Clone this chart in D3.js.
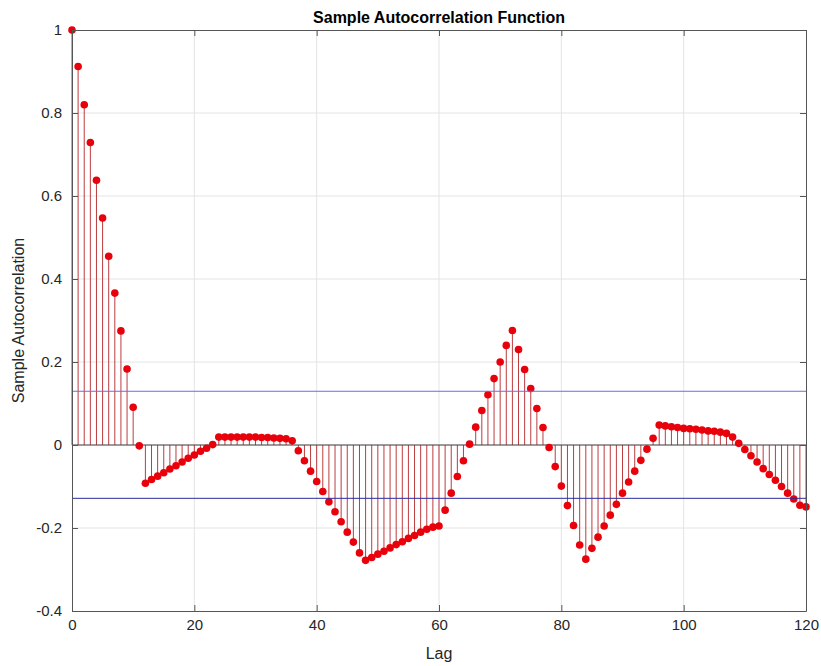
<!DOCTYPE html>
<html>
<head>
<meta charset="utf-8">
<script src="https://cdn.jsdelivr.net/npm/d3@7"></script>
<style>
  body { margin: 0; background: #fff; }
  text { font-family: "Liberation Sans", Arial, Helvetica, sans-serif; }
</style>
</head>
<body>
<div id="chart"></div>
<script>
// sample autocorrelation values, lags 0..120
let lags = d3.range(0, 121);
let acf = [
  1.000, 0.912, 0.820, 0.729, 0.638, 0.547, 0.455, 0.366, 0.275, 0.183, 0.091, -0.002,
  -0.092, -0.083, -0.075, -0.067, -0.058, -0.050, -0.041, -0.032, -0.024, -0.015, -0.008, 0.001,
  0.019, 0.019, 0.019, 0.019, 0.019, 0.019, 0.019, 0.018, 0.018, 0.017, 0.016, 0.015,
  0.010, -0.014, -0.038, -0.063, -0.088, -0.112, -0.137, -0.161, -0.185, -0.210, -0.234, -0.260,
  -0.278, -0.271, -0.263, -0.256, -0.248, -0.240, -0.233, -0.225, -0.218, -0.210, -0.203, -0.198,
  -0.195, -0.157, -0.116, -0.076, -0.038, 0.002, 0.043, 0.083, 0.121, 0.160, 0.200, 0.240,
  0.276, 0.230, 0.182, 0.136, 0.088, 0.042, -0.006, -0.052, -0.099, -0.146, -0.194, -0.241,
  -0.275, -0.249, -0.222, -0.195, -0.169, -0.143, -0.116, -0.089, -0.063, -0.037, -0.010, 0.016,
  0.048, 0.046, 0.044, 0.042, 0.040, 0.039, 0.038, 0.036, 0.034, 0.033, 0.031, 0.028,
  0.019, 0.004, -0.011, -0.026, -0.041, -0.057, -0.071, -0.085, -0.100, -0.116, -0.130, -0.145,
  -0.149
];
let bounds = [0.1295, -0.1285];
let xTicks = [0, 20, 40, 60, 80, 100, 120];
let yTicks = [-0.4, -0.2, 0, 0.2, 0.4, 0.6, 0.8, 1];

let margin = {top: 30, right: 15, bottom: 55, left: 72};
let width = 821 - margin.left - margin.right;
let height = 666 - margin.top - margin.bottom;

let svg = d3.select("#chart")
            .append("svg")
            .attr("width", 821)
            .attr("height", 666)
            .append("g")
            .attr("transform", "translate(" + margin.left + "," + margin.top + ")");

let x = d3.scaleLinear().domain([0, 120]).range([0, width]);
let y = d3.scaleLinear().domain([-0.4, 1]).range([height, 0]);

// grid
svg.append("g").selectAll("line")
    .data(xTicks.slice(1, -1))
    .enter().append("line")
    .attr("x1", d => x(d)).attr("x2", d => x(d))
    .attr("y1", 0).attr("y2", height)
    .attr("stroke", "#e4e4e4").attr("stroke-width", 1);
svg.append("g").selectAll("line")
    .data(yTicks.slice(1, -1))
    .enter().append("line")
    .attr("x1", 0).attr("x2", width)
    .attr("y1", d => y(d)).attr("y2", d => y(d))
    .attr("stroke", "#e4e4e4").attr("stroke-width", 1);

let data = lags.map((l, i) => ({lag: l, r: acf[i]}));

// stems
svg.append("g").selectAll("line")
    .data(data)
    .enter().append("line")
    .attr("x1", d => x(d.lag)).attr("x2", d => x(d.lag))
    .attr("y1", y(0)).attr("y2", d => y(d.r))
    .attr("stroke", "#bd3c3e").attr("stroke-width", 1);

// baseline
svg.append("line")
    .attr("x1", 0).attr("x2", width)
    .attr("y1", y(0)).attr("y2", y(0))
    .attr("stroke", "#444").attr("stroke-width", 1);

// markers
svg.append("g").selectAll("circle")
    .data(data)
    .enter().append("circle")
    .attr("cx", d => x(d.lag)).attr("cy", d => y(d.r))
    .attr("r", 3.8)
    .attr("fill", "#e8000b");

// confidence bounds
svg.append("g").selectAll("line")
    .data(bounds)
    .enter().append("line")
    .attr("x1", 0).attr("x2", width)
    .attr("y1", d => y(d)).attr("y2", d => y(d))
    .attr("stroke", (d, i) => i == 0 ? "#6a6af0" : "#2a2aa0")
    .attr("stroke-width", 1);

// axes (ticks inward, box all round), hyphen minus like MATLAB
let fmt = d => String(+d.toFixed(1));
svg.append("g").attr("class", "axis y-axis")
    .call(d3.axisLeft(y).tickValues(yTicks).tickFormat(fmt).tickSizeInner(-6).tickSizeOuter(0).tickPadding(10));
svg.append("g").attr("class", "axis x-axis")
    .attr("transform", "translate(0," + height + ")")
    .call(d3.axisBottom(x).tickValues(xTicks).tickFormat(fmt).tickSizeInner(-6).tickSizeOuter(0).tickPadding(8));
svg.append("g")
    .call(d3.axisTop(x).tickValues(xTicks).tickFormat("").tickSizeInner(-6).tickSizeOuter(0));
svg.append("g")
    .attr("transform", "translate(" + width + ",0)")
    .call(d3.axisRight(y).tickValues(yTicks).tickFormat("").tickSizeInner(-6).tickSizeOuter(0));

svg.selectAll(".domain").attr("stroke", "#555");
svg.selectAll(".tick line").attr("stroke", "#555");
svg.selectAll(".axis text").attr("font-size", 15).attr("fill", "#262626")
    .attr("font-family", "'Liberation Sans', Arial, sans-serif");

// title
svg.append("text")
    .attr("x", width / 2).attr("y", -7)
    .style("text-anchor", "middle")
    .attr("font-size", 16).attr("font-weight", "bold").attr("fill", "#000")
    .text("Sample Autocorrelation Function");

// x label
svg.append("text")
    .attr("x", width / 2).attr("y", height + 48)
    .style("text-anchor", "middle")
    .attr("font-size", 16).attr("fill", "#262626")
    .text("Lag");

// y label
svg.append("text")
    .attr("transform", "translate(-48," + (height / 2) + ") rotate(-90)")
    .style("text-anchor", "middle")
    .attr("font-size", 16).attr("fill", "#262626")
    .text("Sample Autocorrelation");
</script>
</body>
</html>
